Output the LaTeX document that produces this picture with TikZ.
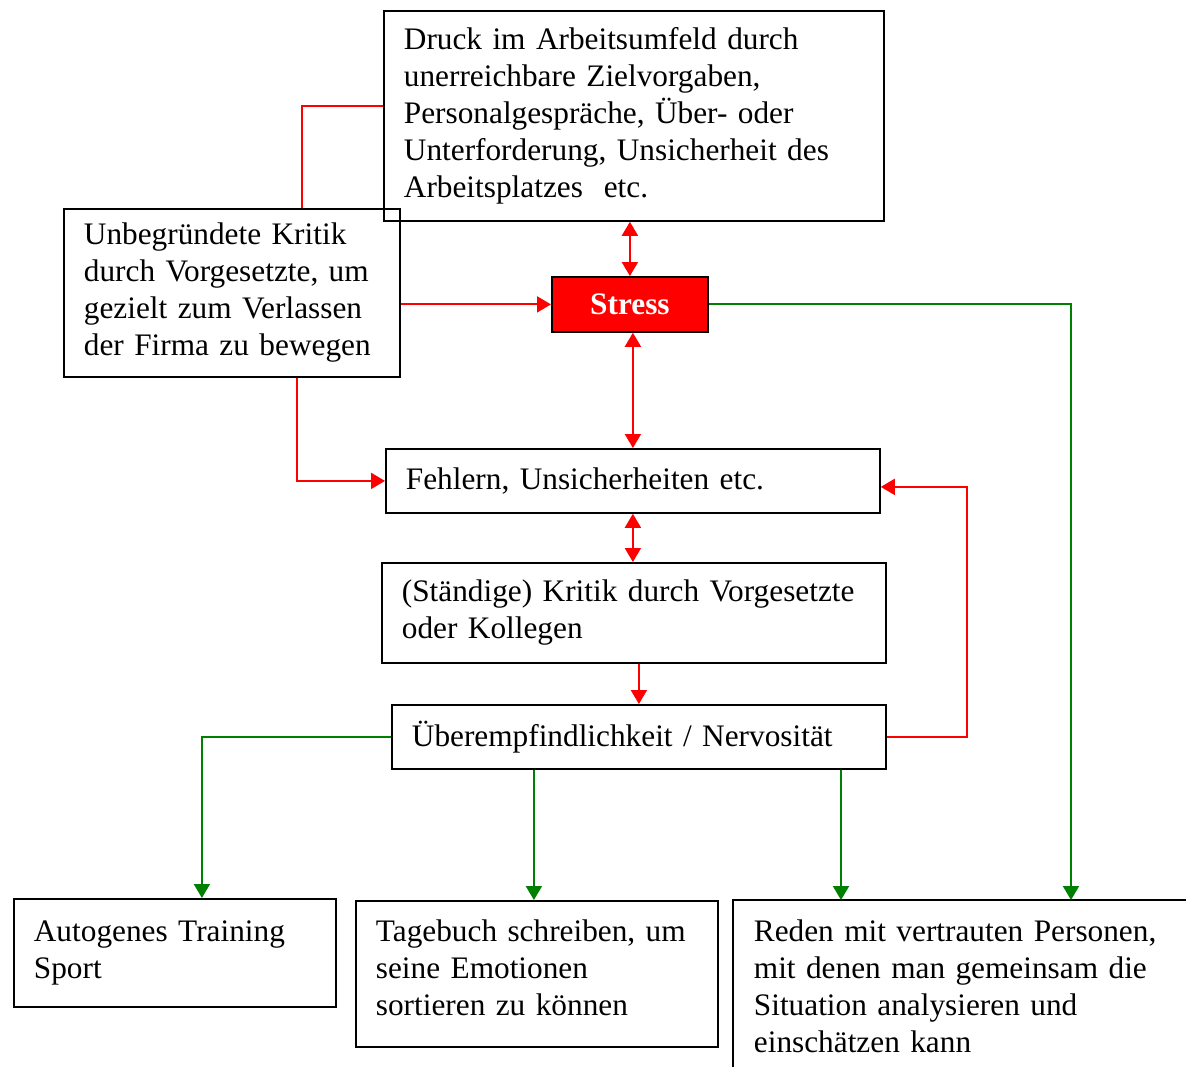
\documentclass[tikz,border=0pt]{standalone}
\usepackage{fontspec}
\setmainfont{Liberation Serif}
\usetikzlibrary{arrows.meta,calc}
\definecolor{dkgreen}{RGB}{0,128,0}
\begin{document}
\begin{tikzpicture}[x=1pt,y=-1pt,
  every node/.style={font=\fontsize{31.3}{37}\selectfont},
  box/.style={draw,line width=1.8pt,anchor=north west,align=left,inner xsep=20pt,inner ysep=2pt},
  redline/.style={draw=red,line width=2pt},
  grnline/.style={draw=dkgreen,line width=2pt},
  tip/.style={-{Triangle[length=14pt,width=16pt]}},
  tips/.style={{Triangle[length=14pt,width=16pt]}-{Triangle[length=14pt,width=16pt]}}]
\useasboundingbox (0,0) rectangle (1186,1066);

% boxes
\node[box,text width=460pt,minimum height=210pt] (druck) at (383,10)
  {Druck im Arbeitsumfeld durch\\unerreichbare Zielvorgaben,\\Personalgespräche, Über- oder\\Unterforderung, Unsicherheit des\\Arbeitsplatzes\ \ etc.};
\node[box,text width=296pt,minimum height=168pt] (unbeg) at (63,208)
  {Unbegründete Kritik\\durch Vorgesetzte, um\\gezielt zum Verlassen\\der Firma zu bewegen};
\node[draw,fill=red,line width=1.8pt,anchor=north west,minimum width=156pt,minimum height=55pt,inner sep=0pt,
  text=white,font=\fontsize{31.3}{37}\selectfont\bfseries] (stress) at (551,276) {Stress};
\node[box,text width=454pt,minimum height=64pt] (fehler) at (385,448)
  {Fehlern, Unsicherheiten etc.};
\node[box,text width=464pt,minimum height=100pt] (staendig) at (381,562)
  {(Ständige) Kritik durch Vorgesetzte\\oder Kollegen};
\node[box,text width=454pt,minimum height=64pt] (ueber) at (391,704)
  {Überempfindlichkeit / Nervosität};
\node[box,text width=282pt,minimum height=108pt] (auto) at (13,898)
  {Autogenes Training\\Sport};
\node[box,text width=322pt,minimum height=146pt] (tage) at (355,900)
  {Tagebuch schreiben, um\\seine Emotionen\\sortieren zu können\\[-25pt]\mbox{}};
\node[box,draw=none,text width=413pt,minimum height=170pt] (reden) at (733,900)
  {Reden mit vertrauten Personen,\\mit denen man gemeinsam die\\Situation analysieren und\\einschätzen kann};
\draw[line width=1.8pt] (reden.south west) -- (reden.north west) -- (reden.north east);

% arrow ends on the lower boxes
\coordinate (tageIn) at ($(tage.north)+(-3,0)$);
\coordinate (redenIn) at ($(reden.north west)+(108,0)$);
\coordinate (redenStress) at ($(reden.north west)+(338,0)$);

% red connectors
\draw[redline] ($(unbeg.north west)+(239,0)$) |- ([yshift=10pt]druck.west);
\draw[redline,tips] (stress.north) -- (stress.north |- druck.south);
\draw[redline,tip] (stress.west -| unbeg.east) -- (stress.west);
\draw[redline,tips] (stress.south -| fehler.north) -- (fehler.north);
\draw[redline,tip] ($(unbeg.south west)+(234,0)$) |- (fehler.west);
\draw[redline,tips] (fehler.south) -- (fehler.south |- staendig.north);
\draw[redline,tip] (ueber.north |- staendig.south) -- (ueber.north);
\draw[redline,tip] (ueber.east) -- ++(80,0) |- ([yshift=-6pt]fehler.east);

% green connectors
\draw[grnline,tip] (stress.east) -| (redenStress);
\draw[grnline,tip] (ueber.west) -| ($(auto.north)+(27,0)$);
\draw[grnline,tip] (tageIn |- ueber.south) -- (tageIn);
\draw[grnline,tip] (redenIn |- ueber.south) -- (redenIn);
\end{tikzpicture}
\end{document}
